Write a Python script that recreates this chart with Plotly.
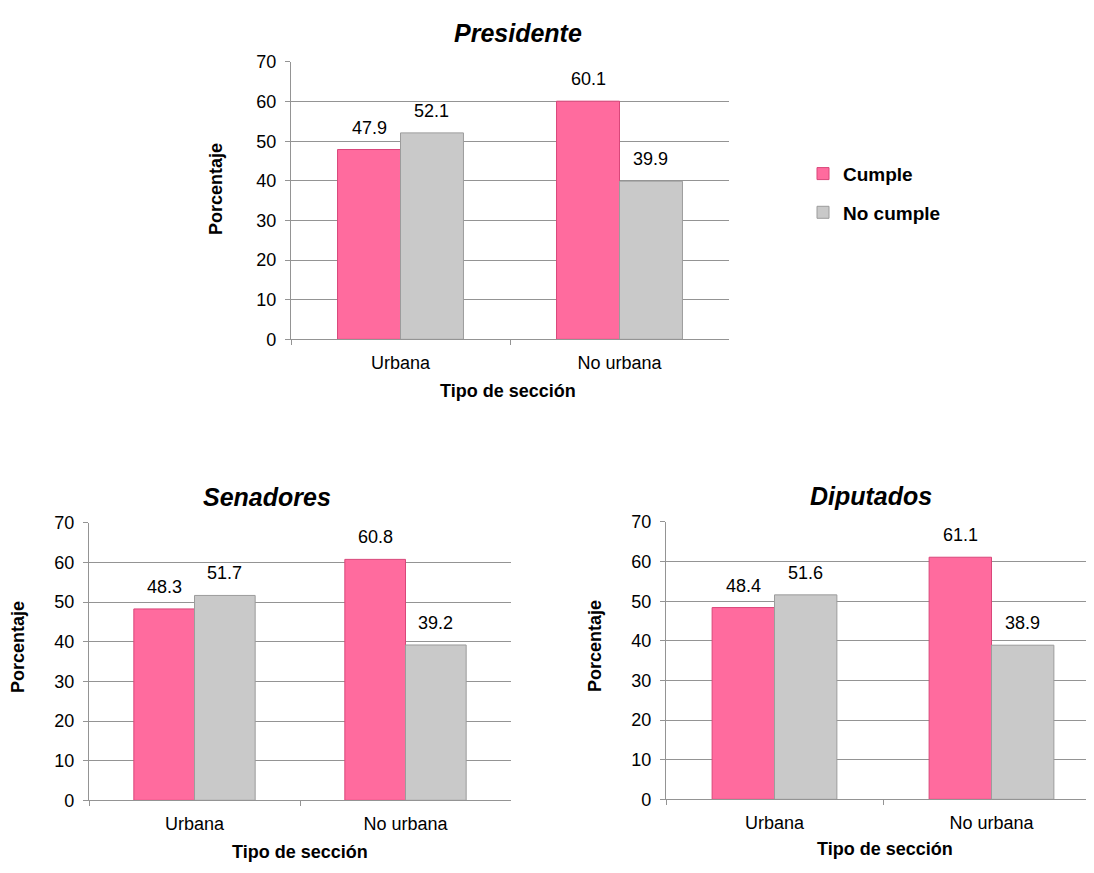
import plotly.graph_objects as go

categories = ["Urbana", "No urbana"]
series_names = ["Cumple", "No cumple"]
presidente_cumple = [47.9, 60.1]
presidente_no = [52.1, 39.9]
senadores_cumple = [48.3, 60.8]
senadores_no = [51.7, 39.2]
diputados_cumple = [48.4, 61.1]
diputados_no = [51.6, 38.9]
chart_titles = ["Presidente", "Senadores", "Diputados"]
y_ticks = [0, 10, 20, 30, 40, 50, 60, 70]

PINK = "#FF6B9E"
PINK_EDGE = "#D9477A"
GRAY = "#C9C9C9"
GRAY_EDGE = "#9C9C9C"
GRID = "#949494"
FONT = "Liberation Sans, Arial, sans-serif"

# page body has an 8px margin; figure sized so nothing overflows
OFF = 8
W, H = 1094 - 2 * OFF, 873 - 2 * OFF
BARGAP = 0.425


def fx(px):
    return (px - OFF) / W


def fy(py):
    return 1 - (py - OFF) / H


fig = go.Figure()

panels = [
    dict(ax="", cum=presidente_cumple, no=presidente_no, title=chart_titles[0],
         xpx=(291, 729), ypx=(53, 337), legend=True,
         tpos=(518, 23), xtpos=(508, 390), ytpos=(216, 183)),
    dict(ax="2", cum=senadores_cumple, no=senadores_no, title=chart_titles[1],
         xpx=(89, 511), ypx=(525, 809), legend=False,
         tpos=(267, 498), xtpos=(300, 862), ytpos=(18, 652)),
    dict(ax="3", cum=diputados_cumple, no=diputados_no, title=chart_titles[2],
         xpx=(666, 1100), ypx=(524, 808), legend=False,
         tpos=(871, 497), xtpos=(885, 859), ytpos=(595, 651)),
]

annotations = []
half = (1 - BARGAP) / 4  # offset of each bar centre from category centre

for p in panels:
    xa = "x" + p["ax"]
    ya = "y" + p["ax"]
    x0, x1 = p["xpx"]
    right_edge = min(x1, OFF + W)
    unit = (x1 - x0) / 2.0
    xr = [-0.5, -0.5 + (right_edge - x0) / unit]
    xd = [fx(x0), fx(right_edge)]
    yd = [fy(p["ypx"][1]), fy(p["ypx"][0])]

    fig.add_trace(go.Bar(
        x=categories, y=p["cum"], name=series_names[0], xaxis=xa, yaxis=ya,
        marker=dict(color=PINK, line=dict(color=PINK_EDGE, width=1)),
        showlegend=p["legend"], legendgroup="a"))
    fig.add_trace(go.Bar(
        x=categories, y=p["no"], name=series_names[1], xaxis=xa, yaxis=ya,
        marker=dict(color=GRAY, line=dict(color=GRAY_EDGE, width=1)),
        showlegend=p["legend"], legendgroup="b"))

    for i, (vc, vn) in enumerate(zip(p["cum"], p["no"])):
        for dx, v in ((-half, vc), (half, vn)):
            annotations.append(dict(
                x=i + dx, y=v, xref=xa, yref=ya, text=f"{v:.1f}",
                showarrow=False, yanchor="bottom", yshift=10,
                font=dict(family=FONT, size=18, color="#000000")))

    axis_x = dict(domain=xd, anchor=ya, type="category", range=xr,
                  showline=True, linecolor=GRID, linewidth=1.3,
                  ticks="outside", tickson="boundaries", ticklen=5, tickcolor=GRID,
                  tickwidth=1.3, showgrid=False,
                  tickfont=dict(family=FONT, size=18, color="#000000"),
                  ticklabelstandoff=7)
    axis_y = dict(domain=yd, anchor=xa, range=[0, 70], tickvals=y_ticks,
                  showline=True, linecolor=GRID, linewidth=1.3,
                  ticks="outside", ticklen=5, tickcolor=GRID, tickwidth=1.3,
                  showgrid=True, gridcolor=GRID, gridwidth=1.3, zeroline=False,
                  tickfont=dict(family=FONT, size=18, color="#000000"),
                  ticklabelstandoff=5)
    fig.update_layout(**{"xaxis" + p["ax"]: axis_x, "yaxis" + p["ax"]: axis_y})

    tx, ty = p["tpos"]
    annotations.append(dict(
        x=fx(tx), y=fy(ty), xref="paper", yref="paper",
        text=f"<b><i>{p['title']}</i></b>", showarrow=False,
        xanchor="center", yanchor="middle",
        font=dict(family=FONT, size=25, color="#000000")))
    tx, ty = p["xtpos"]
    annotations.append(dict(
        x=fx(tx), y=fy(ty), xref="paper", yref="paper",
        text="<b>Tipo de sección</b>", showarrow=False,
        xanchor="center", yanchor="middle",
        font=dict(family=FONT, size=18, color="#000000")))
    tx, ty = p["ytpos"]
    annotations.append(dict(
        x=fx(tx), y=fy(ty), xref="paper", yref="paper",
        text="<b>Porcentaje</b>", showarrow=False, textangle=-90,
        xanchor="center", yanchor="middle",
        font=dict(family=FONT, size=18, color="#000000")))

fig.update_layout(
    width=W, height=H,
    margin=dict(l=0, r=0, t=0, b=0),
    paper_bgcolor="white", plot_bgcolor="white",
    barmode="group", bargap=BARGAP, bargroupgap=0,
    annotations=annotations,
    legend=dict(x=fx(803), y=fy(148), xanchor="left", yanchor="top",
                font=dict(family=FONT, size=19, color="#000000", weight="bold"),
                traceorder="grouped", tracegroupgap=11, itemwidth=30,
                bgcolor="rgba(0,0,0,0)"),
    showlegend=True,
)

fig.write_html("out.html")
